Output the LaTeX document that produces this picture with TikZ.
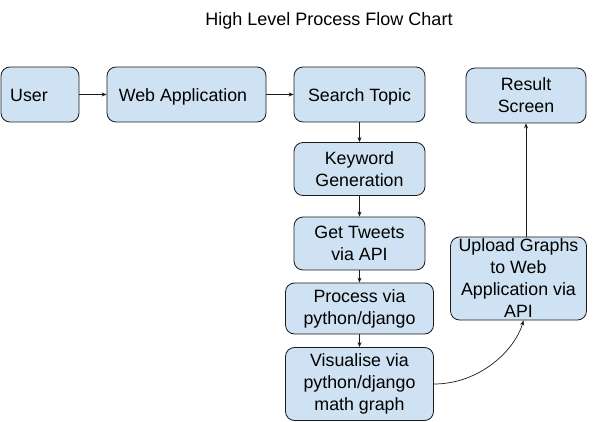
\documentclass[tikz,border=0pt]{standalone}
\usepackage{fontspec}
\setmainfont{Liberation Sans}
\usetikzlibrary{arrows.meta}
\definecolor{boxfill}{HTML}{CFE2F3}
\definecolor{boxline}{HTML}{1A1A1A}
\begin{document}
\begin{tikzpicture}[x=1pt,y=-1pt,
  box/.style={draw=boxline,fill=boxfill,rounded corners=9pt,line width=0.8pt,
    align=center,inner sep=2pt,font=\fontsize{17.8}{22}\selectfont},
  oneline/.style={text height=16.5pt,text depth=2pt},
  conn/.style={draw=boxline,line width=0.7pt,-{Stealth[length=5pt,width=4pt]}}]
\useasboundingbox (0,0) rectangle (600,422);
\node[font=\fontsize{18}{20}\selectfont] (title) at (329,21) {High Level Process Flow Chart};
\node[box,oneline,minimum width=78pt,minimum height=55pt] (user) at (40,94.5) {\hspace*{-22pt}User};
\node[box,oneline,minimum width=159pt,minimum height=55pt] (web) at (186.5,94.5) {\hspace*{-7pt}Web Application};
\node[box,oneline,minimum width=131pt,minimum height=55pt] (search) at (359.5,94.5) {Search Topic};
\node[box,minimum width=120pt,minimum height=55pt] (result) at (526,95.5) {Result\\Screen};
\node[box,minimum width=131pt,minimum height=53pt] (keyword) at (359.5,169) {Keyword\\Generation};
\node[box,minimum width=131pt,minimum height=53pt] (tweets) at (359.5,243.5) {Get Tweets\\via API};
\node[box,minimum width=148pt,minimum height=51pt] (process) at (359.5,308.5) {Process via\\python/django};
\node[box,minimum width=148pt,minimum height=73pt] (visual) at (359.5,384) {Visualise via\\python/django\\math graph};
\node[box,minimum width=136pt,minimum height=83pt] (upload) at (518.5,278.5) {Upload Graphs\\to Web\\Application via\\API};
\draw[conn] (user) -- (web);
\draw[conn] (web) -- (search);
\draw[conn] (search) -- (keyword);
\draw[conn] (keyword) -- (tweets);
\draw[conn] (tweets) -- (process);
\draw[conn] (process) -- (visual);
\draw[conn] (visual.east) .. controls (480,384) and (515,350) .. ([xshift=5pt]upload.south);
\draw[conn] (upload.north -| result.south) -- (result.south);
\end{tikzpicture}
\end{document}
